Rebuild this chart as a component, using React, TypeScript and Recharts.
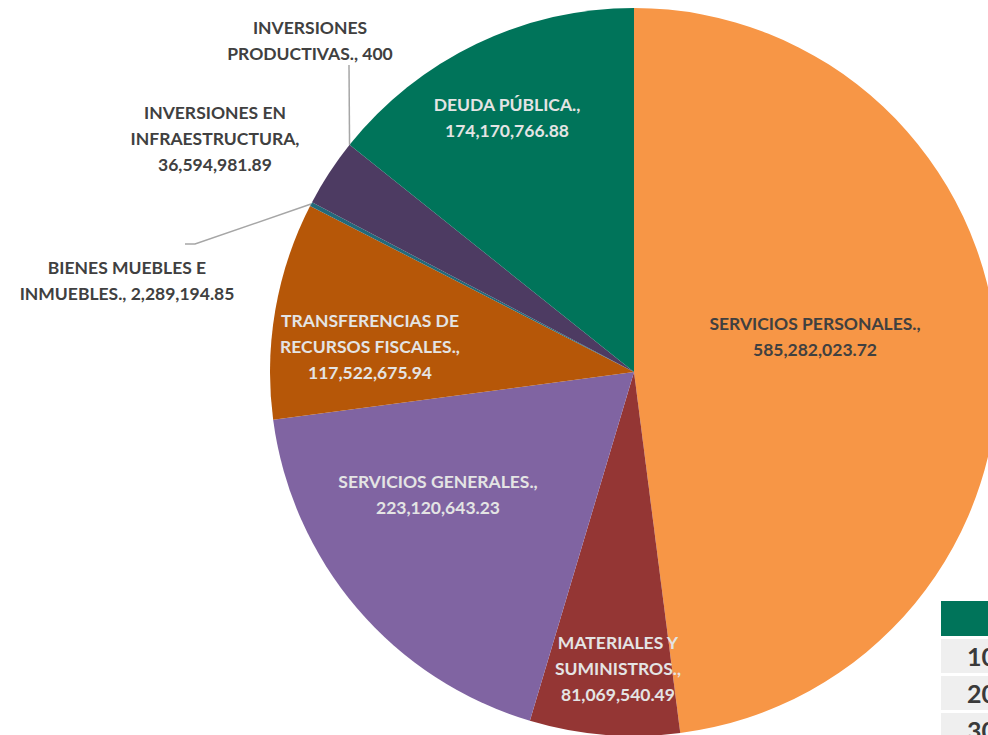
import { Cell, Pie, PieChart } from 'recharts';

const categories = [
	'SERVICIOS PERSONALES.',
	'MATERIALES Y SUMINISTROS.',
	'SERVICIOS GENERALES.',
	'TRANSFERENCIAS DE RECURSOS FISCALES.',
	'BIENES MUEBLES E INMUEBLES.',
	'INVERSIONES EN INFRAESTRUCTURA',
	'INVERSIONES PRODUCTIVAS.',
	'DEUDA PÚBLICA.',
];

const amounts = [
	585282023.72, 81069540.49, 223120643.23, 117522675.94, 2289194.85,
	36594981.89, 400, 174170766.88,
];

const colors = [
	'#F79646',
	'#943634',
	'#8064A2',
	'#B65708',
	'#23697A',
	'#4D3B62',
	'#2C4D75',
	'#00745A',
];

// words per line before the last line (the rest goes on the final line)
const wordsPerLine = [[2], [2, 1], [2], [2, 2], [3], [2, 1], [1], [2]];

// label block centre, relative to the pie centre
const labelOffset = [
	[181, -36],
	[-16, 296],
	[-196, 122],
	[-264, -26],
	[-507, -92],
	[-419, -234],
	[-324, -332],
	[-127, -255],
];

const labelColor = ['#404040', '#E4E4E4', '#E4E4E4', '#E4E4E4', '#404040', '#404040', '#404040', '#E4E4E4'];

// elbow points of leader lines (relative to pie centre), only for small slices
const leaders: Record<number, number[][]> = {
	4: [
		[-439, -128],
		[-449, -128],
	],
	6: [[-285, -307]],
};

const fmt = (v: number) =>
	Number.isInteger(v)
		? v.toLocaleString('en-US')
		: v.toLocaleString('en-US', { minimumFractionDigits: 2, maximumFractionDigits: 2 });

const data = categories.map((name, i) => ({ name, value: amounts[i] }));

const RAD = Math.PI / 180;
const LINE_H = 26;

const renderLabel = (props: any) => {
	const { cx, cy, index, midAngle, outerRadius, name, value } = props;
	const words = `${name}, ${fmt(value)}`.split(' ');
	const lines: string[] = [];
	let k = 0;
	for (const n of wordsPerLine[index]) {
		lines.push(words.slice(k, k + n).join(' '));
		k += n;
	}
	lines.push(words.slice(k).join(' '));

	const [dx, dy] = labelOffset[index];
	const x = cx + dx;
	const y0 = cy + dy - ((lines.length - 1) * LINE_H) / 2;

	let leader = null;
	if (leaders[index]) {
		const sx = cx + outerRadius * Math.cos(-midAngle * RAD);
		const sy = cy + outerRadius * Math.sin(-midAngle * RAD);
		const pts = [[sx, sy], ...leaders[index].map(([px, py]) => [cx + px, cy + py])];
		leader = (
			<polyline
				points={pts.map((p) => p.join(',')).join(' ')}
				fill="none"
				stroke="#A6A6A6"
				strokeWidth={1.5}
			/>
		);
	}

	return (
		<g key={`lbl-${index}`}>
			{leader}
			<text
				x={x}
				y={y0}
				textAnchor="middle"
				dominantBaseline="central"
				fill={labelColor[index]}
				fontFamily="Lato, 'Open Sans', sans-serif"
				fontWeight={700}
				fontSize={17.5}
			>
				{lines.map((l, i) => (
					<tspan key={i} x={x} dy={i === 0 ? 0 : LINE_H}>
						{l}
					</tspan>
				))}
			</text>
		</g>
	);
};

const tableRows = ['100', '200', '300'];

export default function App() {
	return (
		<div
			style={{
				position: 'fixed',
				left: 0,
				top: 0,
				width: 988,
				height: 735,
				overflow: 'hidden',
				background: '#ffffff',
			}}
		>
			<PieChart width={988} height={735} margin={{ top: 0, right: 0, bottom: 0, left: 0 }}>
				<Pie
					data={data}
					dataKey="value"
					nameKey="name"
					cx={634}
					cy={372}
					outerRadius={364}
					startAngle={90}
					endAngle={-270}
					stroke="none"
					label={renderLabel}
					labelLine={false}
					isAnimationActive={false}
				>
					{data.map((d, i) => (
						<Cell key={d.name} fill={colors[i]} />
					))}
				</Pie>
			</PieChart>
			<div style={{ position: 'absolute', left: 941, top: 601, width: 80 }}>
				<div style={{ height: 35, background: '#00745A' }} />
				{tableRows.map((r) => (
					<div
						key={r}
						style={{
							height: 34,
							marginTop: 3,
							background: '#EFEFEF',
							fontFamily: 'Lato, sans-serif',
							fontWeight: 700,
							fontSize: 25,
							color: '#3A3A3A',
							lineHeight: '34px',
							paddingLeft: 26,
						}}
					>
						{r}
					</div>
				))}
			</div>
		</div>
	);
}
